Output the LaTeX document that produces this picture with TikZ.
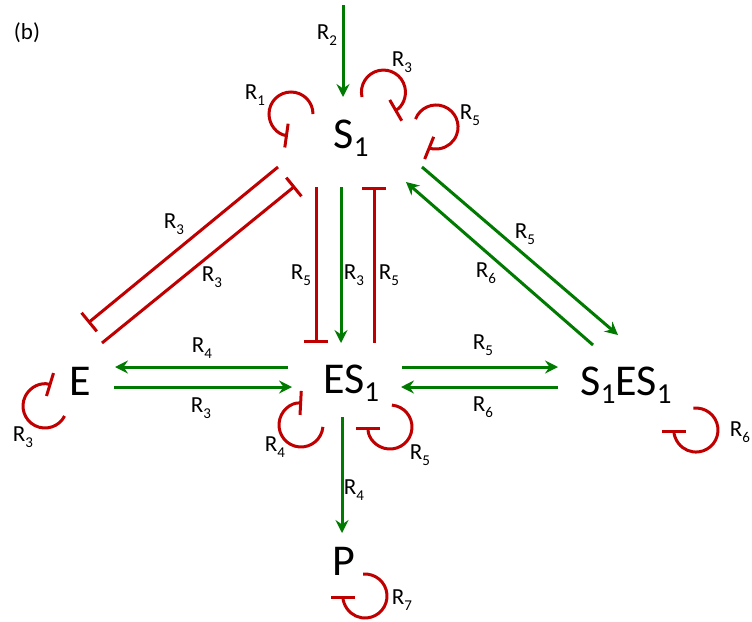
\documentclass[tikz,border=0pt]{standalone}
\usepackage{fontspec}
\setmainfont{Carlito}
\usetikzlibrary{arrows.meta}
\definecolor{inhred}{RGB}{192,0,0}
\definecolor{actgreen}{RGB}{0,122,0}
\newcommand{\bigsub}[1]{\raisebox{-0.2em}{\fontsize{29}{29}\selectfont #1}}
\newcommand{\smallsub}[1]{\raisebox{-0.25em}{\fontsize{15}{15}\selectfont #1}}
\newcommand{\Rl}[1]{R\smallsub{#1}}
\tikzset{
  species/.style={inner sep=0pt, anchor=base, font=\fontsize{44}{44}\selectfont},
  rlab/.style={inner sep=0pt, font=\fontsize{23}{23}\selectfont},
  act/.style={draw=actgreen, line width=3pt, -{Stealth[length=13pt,width=13pt,inset=4.5pt]}},
  inh/.style={draw=inhred, line width=3pt, -{Bar[width=24pt]}},
  selfinh/.style={draw=inhred, line width=3pt, -{Bar[width=24pt]}},
}
\begin{document}
\begin{tikzpicture}[x=1pt,y=-1pt]
\useasboundingbox (0,0) rectangle (752,621);
% species
\node[species] (S1) at (351,148) {S\bigsub{1}};
\node[species] (E) at (80,395) {E};
\node[species] (ES1) at (351,393) {ES\bigsub{1}};
\node[species] (SES) at (626,395) {S\bigsub{1}ES\bigsub{1}};
\node[species] (P) at (344,575) {P};
\coordinate (in) at (343,5);
% label
\node[rlab] (b) at (27,33) {(b)};
% connectors
\draw[act] (in) -- ([shift={(-8,-51)}]S1.base);
\draw[inh] ([shift={(-73,19)}]S1.base) -- ([shift={(8,-72)}]E.base);
\draw[inh] ([shift={(22,-52)}]E.base) -- ([shift={(-56,38)}]S1.base);
\draw[inh] ([shift={(-35,39)}]S1.base) -- ([shift={(-35,-50)}]ES1.base);
\draw[act] ([shift={(-10,39)}]S1.base) -- ([shift={(-10,-50)}]ES1.base);
\draw[inh] ([shift={(23,-50)}]ES1.base) -- ([shift={(23,39)}]S1.base);
\draw[act] ([shift={(71,19)}]S1.base) -- ([shift={(-8,-60)}]SES.base);
\draw[act] ([shift={(-33,-50)}]SES.base) -- ([shift={(55,34)}]S1.base);
\draw[act] ([shift={(-63,-26)}]ES1.base) -- ([shift={(35,-28)}]E.base);
\draw[act] ([shift={(34,-8)}]E.base) -- ([shift={(-59,-6)}]ES1.base);
\draw[act] ([shift={(51,-26)}]ES1.base) -- ([shift={(-68,-28)}]SES.base);
\draw[act] ([shift={(-68,-8)}]SES.base) -- ([shift={(50,-6)}]ES1.base);
\draw[act] ([shift={(-9,24)}]ES1.base) -- ([shift={(-2,-42)}]P.base);
% self loops
\draw[selfinh] ([shift={(-38,-34)}]S1.base) arc[start angle=0, end angle=262, radius=22pt];
\draw[selfinh] ([shift={(11,-51)}]S1.base) arc[start angle=-167, end angle=-420, radius=22pt];
\draw[selfinh] ([shift={(64.5,-28.9)}]S1.base) arc[start angle=159, end angle=-112, radius=22pt];
\draw[selfinh] ([shift={(-28.1,33.9)}]ES1.base) arc[start angle=-5, end angle=-273, radius=22pt];
\draw[selfinh] ([shift={(40.9,12.1)}]ES1.base) arc[start angle=85, end angle=-180, radius=22pt];
\draw[selfinh] ([shift={(-15.4,21)}]E.base) arc[start angle=-27, end angle=-287, radius=22pt];
\draw[selfinh] ([shift={(67.3,13.2)}]SES.base) arc[start angle=97, end angle=-180, radius=22pt];
\draw[selfinh] ([shift={(19.1,-0.9)}]P.base) arc[start angle=95, end angle=-180, radius=22pt];
% rate labels
\node[rlab] (l2) at (327,35) {\Rl{2}};
\node[rlab] (l1) at (255,95) {\Rl{1}};
\node[rlab] (l3t) at (402,62) {\Rl{3}};
\node[rlab] (l5t) at (470,115) {\Rl{5}};
\node[rlab] (l3a) at (174,224) {\Rl{3}};
\node[rlab] (l3b) at (212,277) {\Rl{3}};
\node[rlab] (l5l) at (301,275) {\Rl{5}};
\node[rlab] (l3m) at (354,275) {\Rl{3}};
\node[rlab] (l5r) at (389,275) {\Rl{5}};
\node[rlab] (l5d) at (525,234) {\Rl{5}};
\node[rlab] (l6d) at (486,273) {\Rl{6}};
\node[rlab] (l4h) at (202,348) {\Rl{4}};
\node[rlab] (l3h) at (201,408) {\Rl{3}};
\node[rlab] (l5h) at (483,345) {\Rl{5}};
\node[rlab] (l6h) at (483,407) {\Rl{6}};
\node[rlab] (l3e) at (23,437) {\Rl{3}};
\node[rlab] (l4e) at (275,447) {\Rl{4}};
\node[rlab] (l5e) at (420,455) {\Rl{5}};
\node[rlab] (l4p) at (354,490) {\Rl{4}};
\node[rlab] (l6s) at (740,432) {\Rl{6}};
\node[rlab] (l7p) at (402,600) {\Rl{7}};
\end{tikzpicture}
\end{document}
